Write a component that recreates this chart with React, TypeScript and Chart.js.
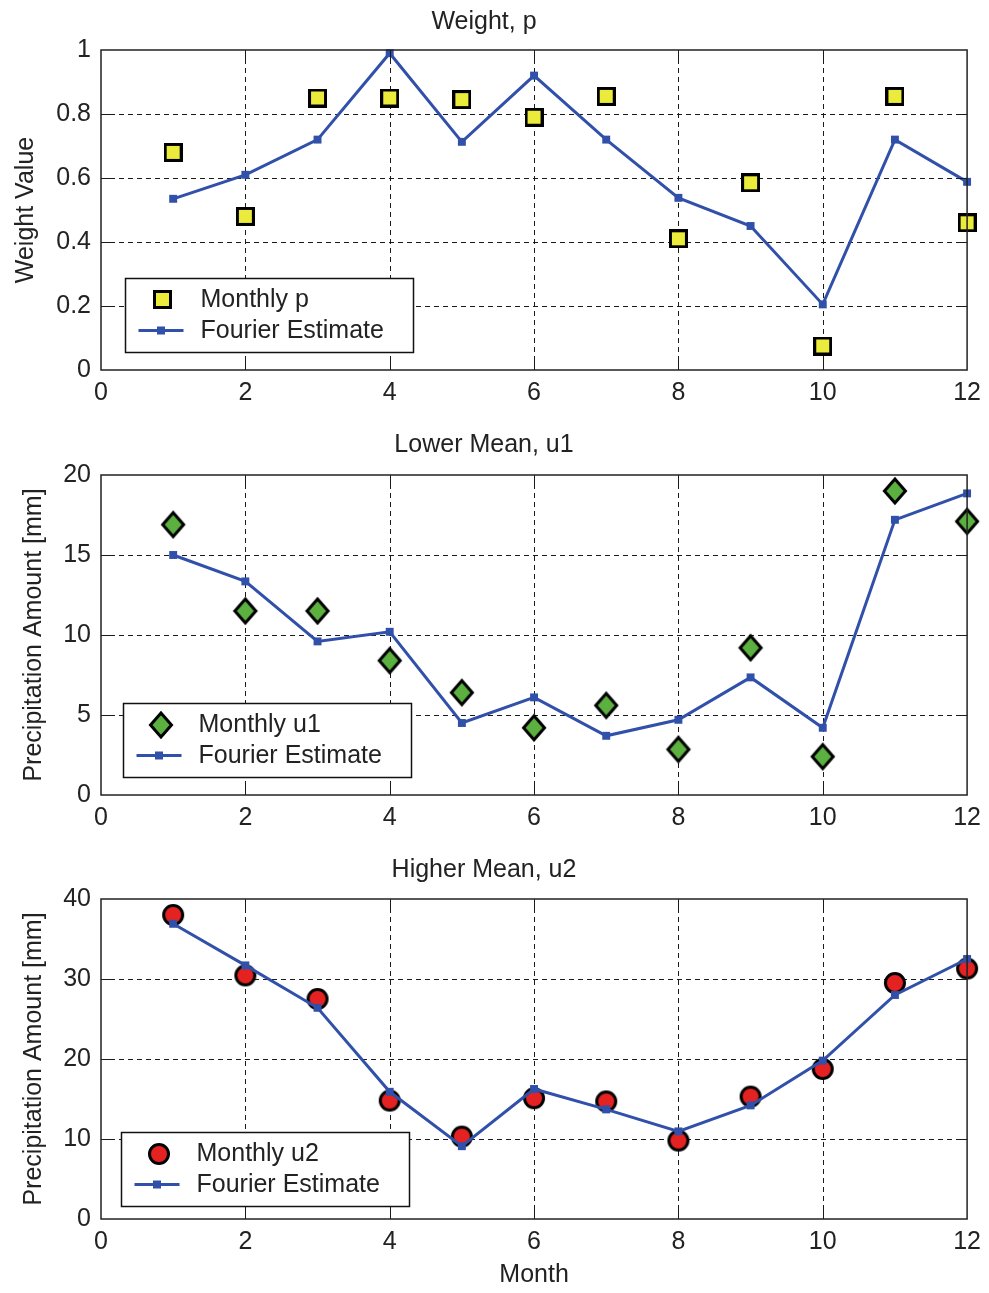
import React, { useEffect, useRef } from "react";
import { Chart, registerables } from "chart.js";

Chart.register(...registerables);

// ---------------- data ----------------
const months = [1, 2, 3, 4, 5, 6, 7, 8, 9, 10, 11, 12];
const monthTicks = [0, 2, 4, 6, 8, 10, 12];

const monthlyP = [0.68, 0.48, 0.85, 0.85, 0.845, 0.79, 0.855, 0.41, 0.585, 0.075, 0.855, 0.46];
const fourierP = [0.535, 0.61, 0.72, 0.99, 0.713, 0.92, 0.72, 0.538, 0.45, 0.205, 0.72, 0.588];
const weightTicks = [0, 0.2, 0.4, 0.6, 0.8, 1];

const monthlyU1 = [16.9, 11.5, 11.5, 8.4, 6.4, 4.2, 5.6, 2.85, 9.2, 2.4, 19.0, 17.1];
const fourierU1 = [15.0, 13.35, 9.6, 10.2, 4.5, 6.1, 3.7, 4.7, 7.35, 4.2, 17.2, 18.85];
const u1Ticks = [0, 5, 10, 15, 20];

const monthlyU2 = [38.0, 30.45, 27.5, 14.8, 10.3, 15.1, 14.7, 9.8, 15.3, 18.75, 29.5, 31.3];
const fourierU2 = [36.9, 31.7, 26.4, 15.9, 9.1, 16.25, 13.7, 10.95, 14.2, 19.8, 28.0, 32.5];
const u2Ticks = [0, 10, 20, 30, 40];

// ---------------- style ----------------
const FONT = "'Liberation Sans', Arial, sans-serif";
const TEXT = "#222222";
const BLUE = "#3050aa";
const YELLOW = "#ebeb3b";
const GREEN = "#5cb040";
const RED = "#e52222";
const FS = 25;

function makeMarker(kind: string): HTMLCanvasElement {
  const c = document.createElement("canvas");
  const ctx = c.getContext("2d")!;
  if (kind === "square") {
    c.width = 19;
    c.height = 19;
    ctx.fillStyle = YELLOW;
    ctx.fillRect(0, 0, 19, 19);
    ctx.strokeStyle = "#000";
    ctx.lineWidth = 3;
    ctx.strokeRect(1.5, 1.5, 16, 16);
  } else if (kind === "diamond") {
    c.width = 28;
    c.height = 32;
    ctx.beginPath();
    ctx.moveTo(14, 4);
    ctx.lineTo(24.5, 16);
    ctx.lineTo(14, 28);
    ctx.lineTo(3.5, 16);
    ctx.closePath();
    ctx.fillStyle = GREEN;
    ctx.fill();
    ctx.strokeStyle = "#000";
    ctx.lineWidth = 3;
    ctx.lineJoin = "miter";
    ctx.stroke();
  } else {
    c.width = 24;
    c.height = 24;
    ctx.beginPath();
    ctx.arc(12, 12, 9.5, 0, Math.PI * 2);
    ctx.fillStyle = RED;
    ctx.fill();
    ctx.strokeStyle = "#000";
    ctx.lineWidth = 3;
    ctx.stroke();
  }
  return c;
}

type PanelProps = {
  top: number;
  height: number;
  xScaleHeight: number;
  title: string;
  titlePad: { top: number; bottom: number };
  yLabel: string;
  yTitlePad: number;
  xLabel?: string;
  monthly: number[];
  fourier: number[];
  yTicks: number[];
  marker: string;
  monthlyLabel: string;
  legendDx: number;
  legendDy: number;
};

function Panel(p: PanelProps) {
  const ref = useRef<HTMLCanvasElement>(null);
  useEffect(() => {
    const marker = makeMarker(p.marker);
    const yMin = p.yTicks[0];
    const yMax = p.yTicks[p.yTicks.length - 1];

    const deco = {
      id: "deco",
      beforeDatasetsDraw(chart: any) {
        const { ctx, chartArea: a, scales } = chart;
        const xs = scales.x;
        const ys = scales.y;
        ctx.save();
        ctx.strokeStyle = "#1a1a1a";
        ctx.lineWidth = 1;
        ctx.setLineDash([5, 4]);
        for (const v of monthTicks) {
          if (v <= monthTicks[0] || v >= monthTicks[monthTicks.length - 1]) continue;
          const px = Math.round(xs.getPixelForValue(v)) + 0.5;
          ctx.beginPath();
          ctx.moveTo(px, a.top);
          ctx.lineTo(px, a.bottom);
          ctx.stroke();
        }
        for (const v of p.yTicks) {
          if (v <= yMin || v >= yMax) continue;
          const py = Math.round(ys.getPixelForValue(v)) + 0.5;
          ctx.beginPath();
          ctx.moveTo(a.left, py);
          ctx.lineTo(a.right, py);
          ctx.stroke();
        }
        ctx.restore();
      },
      afterDatasetsDraw(chart: any) {
        const { ctx, chartArea: a, scales } = chart;
        const xs = scales.x;
        const ys = scales.y;
        const TL = 9;
        ctx.save();
        ctx.strokeStyle = "#1a1a1a";
        ctx.lineWidth = 1;
        ctx.setLineDash([]);
        for (const v of monthTicks) {
          if (v <= monthTicks[0] || v >= monthTicks[monthTicks.length - 1]) continue;
          const px = Math.round(xs.getPixelForValue(v)) + 0.5;
          ctx.beginPath();
          ctx.moveTo(px, a.bottom);
          ctx.lineTo(px, a.bottom - TL);
          ctx.moveTo(px, a.top);
          ctx.lineTo(px, a.top + TL);
          ctx.stroke();
        }
        for (const v of p.yTicks) {
          if (v <= yMin || v >= yMax) continue;
          const py = Math.round(ys.getPixelForValue(v)) + 0.5;
          ctx.beginPath();
          ctx.moveTo(a.left, py);
          ctx.lineTo(a.left + TL, py);
          ctx.moveTo(a.right, py);
          ctx.lineTo(a.right - TL, py);
          ctx.stroke();
        }
        ctx.lineWidth = 1.5;
        ctx.strokeStyle = "#222";
        ctx.strokeRect(a.left, a.top, a.right - a.left, a.bottom - a.top);
        ctx.restore();
      },
      afterDraw(chart: any) {
        const { ctx, chartArea: a } = chart;
        const W = 288;
        const H = 74;
        const bx = Math.round(a.left + p.legendDx) + 0.5;
        const by = Math.round(a.bottom - p.legendDy - H) + 0.5;
        const ds = chart.data.datasets;
        ctx.save();
        ctx.fillStyle = "#fff";
        ctx.fillRect(bx, by, W, H);
        ctx.lineWidth = 1.5;
        ctx.strokeStyle = "#111";
        ctx.strokeRect(bx, by, W, H);
        ctx.drawImage(marker, Math.round(bx + 37 - marker.width / 2), Math.round(by + 21 - marker.height / 2));
        ctx.strokeStyle = BLUE;
        ctx.lineWidth = 3;
        ctx.beginPath();
        ctx.moveTo(bx + 13, by + 52);
        ctx.lineTo(bx + 58, by + 52);
        ctx.stroke();
        ctx.fillStyle = BLUE;
        ctx.fillRect(bx + 35.5 - 4, by + 52 - 4, 8, 8);
        ctx.fillStyle = TEXT;
        ctx.font = `${FS}px ${FONT}`;
        ctx.textBaseline = "middle";
        ctx.textAlign = "left";
        ctx.fillText(ds[0].label, bx + 75, by + 22);
        ctx.fillText(ds[1].label, bx + 75, by + 53);
        ctx.restore();
      },
    };

    const tickFont = { family: FONT, size: FS };
    const chart = new Chart(ref.current!, {
      type: "scatter",
      data: {
        datasets: [
          {
            label: p.monthlyLabel,
            data: months.map((m, i) => ({ x: m, y: p.monthly[i] })),
            pointStyle: marker as any,
            pointRadius: 11,
            showLine: false,
            order: 1,
            clip: false as any,
          },
          {
            label: "Fourier Estimate",
            data: months.map((m, i) => ({ x: m, y: p.fourier[i] })),
            showLine: true,
            borderColor: BLUE,
            backgroundColor: BLUE,
            borderWidth: 3,
            pointStyle: "rect",
            pointRadius: 5.6,
            pointBackgroundColor: BLUE,
            pointBorderColor: BLUE,
            pointBorderWidth: 0,
            order: 0,
            clip: false as any,
          },
        ],
      },
      options: {
        animation: false,
        responsive: false,
        maintainAspectRatio: false,
        layout: { padding: { left: 0, right: 21, top: 0, bottom: 0 } },
        plugins: {
          legend: { display: false },
          tooltip: { enabled: false },
          title: {
            display: true,
            text: p.title,
            color: TEXT,
            font: { family: FONT, size: FS, weight: "normal" as any },
            padding: p.titlePad,
          },
        },
        scales: {
          x: {
            type: "linear",
            min: monthTicks[0],
            max: monthTicks[monthTicks.length - 1],
            afterBuildTicks: (s: any) => {
              s.ticks = monthTicks.map((v) => ({ value: v }));
            },
            afterFit: (s: any) => {
              s.height = p.xScaleHeight;
            },
            grid: { display: false, drawTicks: false },
            border: { display: false },
            ticks: {
              padding: 8,
              color: TEXT,
              font: tickFont,
              autoSkip: false,
              maxRotation: 0,
              callback: (v: any) => String(v),
            },
            title: p.xLabel
              ? {
                  display: true,
                  text: p.xLabel,
                  color: TEXT,
                  font: tickFont,
                  padding: { top: 0, bottom: 3 },
                }
              : { display: false },
          },
          y: {
            type: "linear",
            min: yMin,
            max: yMax,
            afterBuildTicks: (s: any) => {
              s.ticks = p.yTicks.map((v) => ({ value: v }));
            },
            afterFit: (s: any) => {
              s.width = 101;
            },
            grid: { display: false, drawTicks: false },
            border: { display: false },
            ticks: {
              padding: 10,
              color: TEXT,
              font: tickFont,
              autoSkip: false,
              callback: (v: any) => String(v),
            },
            title: {
              display: true,
              text: p.yLabel,
              color: TEXT,
              font: tickFont,
              padding: { top: p.yTitlePad, bottom: 0 },
            },
          },
        },
      },
      plugins: [deco],
    } as any);
    return () => chart.destroy();
  }, []);
  return (
    <canvas
      ref={ref}
      width={989}
      height={p.height}
      style={{ position: "absolute", left: 0, top: p.top, display: "block" }}
    />
  );
}

export default function App() {
  return (
    <div
      style={{
        position: "absolute",
        left: 0,
        top: 0,
        width: 989,
        height: 1293,
        background: "#fff",
        overflow: "hidden",
      }}
    >
      <Panel
        top={0}
        height={425}
        xScaleHeight={55}
        title="Weight, p"
        titlePad={{ top: 7, bottom: 13 }}
        yLabel="Weight Value"
        yTitlePad={11}
        monthly={monthlyP}
        fourier={fourierP}
        yTicks={weightTicks}
        marker="square"
        monthlyLabel="Monthly p"
        legendDx={24}
        legendDy={18}
      />
      <Panel
        top={425}
        height={424}
        xScaleHeight={54}
        title="Lower Mean, u1"
        titlePad={{ top: 5, bottom: 15 }}
        yLabel="Precipitation Amount [mm]"
        yTitlePad={19}
        monthly={monthlyU1}
        fourier={fourierU1}
        yTicks={u1Ticks}
        marker="diamond"
        monthlyLabel="Monthly u1"
        legendDx={22}
        legendDy={18}
      />
      <Panel
        top={849}
        height={444}
        xScaleHeight={74}
        title="Higher Mean, u2"
        titlePad={{ top: 6, bottom: 14 }}
        yLabel="Precipitation Amount [mm]"
        yTitlePad={19}
        xLabel="Month"
        monthly={monthlyU2}
        fourier={fourierU2}
        yTicks={u2Ticks}
        marker="circle"
        monthlyLabel="Monthly u2"
        legendDx={20}
        legendDy={13.5}
      />
    </div>
  );
}
